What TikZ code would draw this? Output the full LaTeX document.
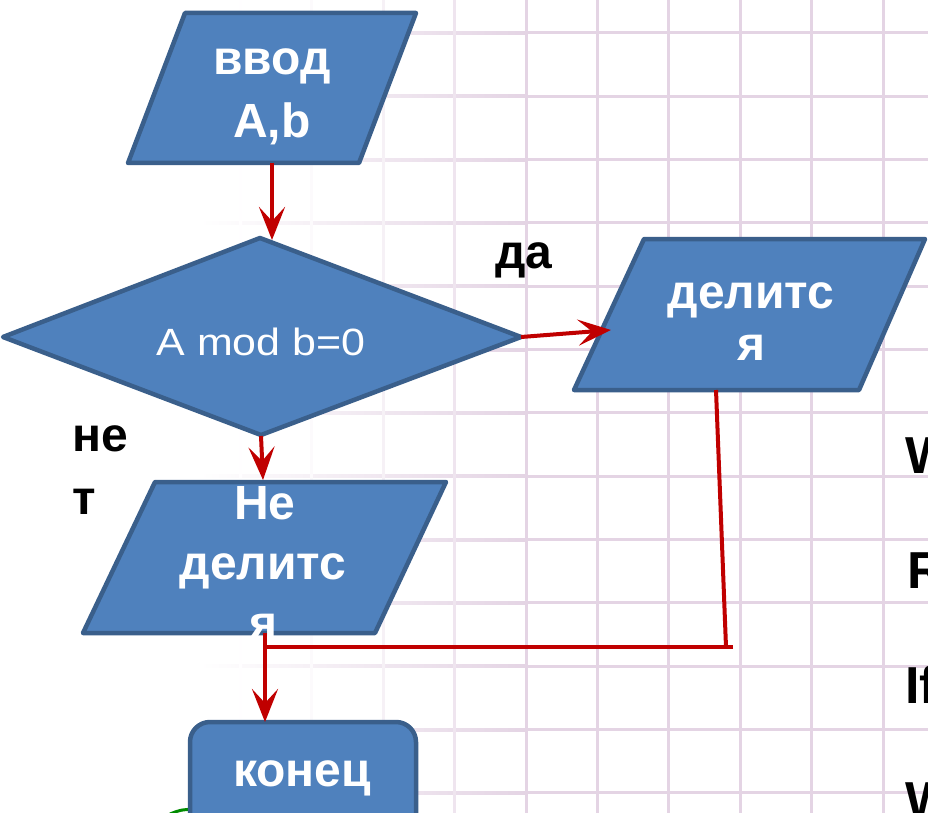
\documentclass[tikz,border=0pt]{standalone}
\usepackage{fontspec}
\setmainfont{Liberation Sans}
\newfontfamily\condfont{Liberation Sans}[FakeStretch=1.13]
\usetikzlibrary{arrows.meta}
\definecolor{boxfill}{HTML}{4F81BD}
\definecolor{boxline}{HTML}{3A5F8B}
\definecolor{arr}{HTML}{C00000}
\definecolor{gridc}{HTML}{E4D4E4}
\tikzset{
  blk/.style={fill=boxfill, draw=boxline, line width=4.5pt, line join=round},
  wtxt/.style={text=white, font=\bfseries\fontsize{48}{58}\selectfont, anchor=base, inner sep=0pt},
  lbl/.style={text=black, font=\bfseries\fontsize{48}{56}\selectfont, inner sep=0pt},
  side/.style={text=black, font=\bfseries\fontsize{52}{60}\selectfont, anchor=base west, inner sep=0pt},
  con/.style={draw=arr, line width=4pt},
  conarr/.style={con, -{Stealth[length=33pt, width=26pt, inset=14pt]}}
}
\begin{document}
\begin{tikzpicture}[x=1pt,y=-1pt]
\useasboundingbox (0,0) rectangle (928,813);
\clip (0,0) rectangle (928,813);
\fill[white] (0,0) rectangle (928,813);
% grid (fading out towards the left)
\foreach \k in {0,...,12}{
  \pgfmathsetmacro\yy{33+63.33*\k}
  \shade[left color=white, right color=gridc] (200,\yy-1.5) rectangle (526,\yy+1.5);
  \fill[gridc] (526,\yy-1.5) rectangle (928,\yy+1.5);
}
\foreach \k in {-6,...,5}{
  \pgfmathsetmacro\xx{526+71.4*\k}
  \pgfmathsetmacro\pp{min(100,100*(max(0,\xx-200)/326)^2)}
  \draw[line width=3pt, color=gridc!\pp!white] (\xx,0) -- (\xx,813);
}
% green sliver
\draw[green!55!black, line width=3pt] (170,814) .. controls (180,810) .. (194,809);

% shapes
\draw[blk] (185,13) -- (416,13) -- (359,163) -- (128,163) -- cycle;
\draw[blk] (3,337) -- (260,238) -- (521,337) -- (261,435) -- cycle;
\draw[blk] (644,239) -- (925,239) -- (859,390) -- (574,390) -- cycle;
\draw[blk] (155,482) -- (446,482) -- (375,633) -- (83,633) -- cycle;
\draw[blk, rounded corners=20pt] (190,722) rectangle (416,840);

% texts
\node[wtxt] (t1a) at (272,75) {ввод};
\node[wtxt] (t1b) at (272,138) {A,b};
\node[anchor=base, text=white, inner sep=0pt, font=\condfont\fontsize{38}{44}\selectfont] (cond) at (261,355) {A mod b=0};
\node[wtxt] (t2a) at (751,308) {делитс};
\node[wtxt] (t2b) at (751,360) {я};
\node[wtxt] (t3a) at (265,519) {Не};
\node[wtxt] (t3b) at (263,579) {делитс};
\node[wtxt] (t3c) at (263,639) {я};
\node[wtxt] (t4) at (302,786) {конец};

% labels
\node[lbl, anchor=base] (yes) at (524,268) {да};
\node[lbl, anchor=base west] (no1) at (72,451) {не};
\node[lbl, anchor=base west] (no2) at (72,514) {т};

% side letters (cut by the right edge, as in the reference)
\node[side] (s1) at (905,473) {W};
\node[side] (s2) at (907,588) {R};
\node[side] (s3) at (905,703) {If};
\node[side] (s4) at (905,818) {W};

% connector points
\coordinate (inBot) at (272,163);
\coordinate (decTop) at (272,240);
\coordinate (decRight) at (521,337);
\coordinate (yesIn) at (611,330);
\coordinate (decBot) at (261,436);
\coordinate (noTop) at (263,480);
\coordinate (yesBot) at (716,390);
\coordinate (joinR) at (726,647);
\coordinate (joinREnd) at (733,647);
\coordinate (joinL) at (265,647);
\coordinate (noBot) at (265,633);
\coordinate (endTop) at (265,722);

% connectors
\draw[conarr] (inBot) -- (decTop);
\draw[conarr] (decRight) -- (yesIn);
\draw[conarr] (decBot) -- (noTop);
\draw[con] (yesBot) -- (joinR);
\draw[con] (joinREnd) -- (joinL);
\draw[conarr] (noBot) -- (endTop);
\end{tikzpicture}
\end{document}
